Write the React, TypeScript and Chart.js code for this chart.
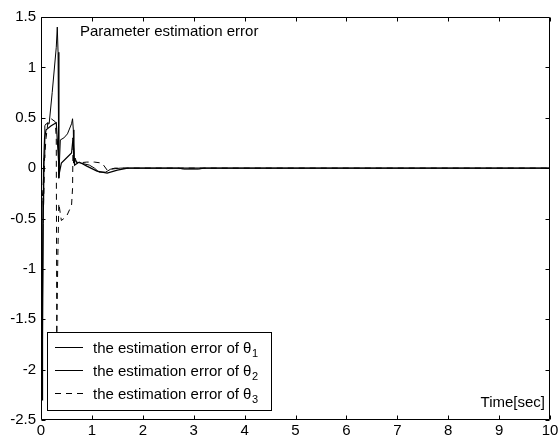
import React, { useEffect, useRef } from "react";
import { Chart, registerables } from "chart.js";

Chart.register(...registerables);

const FONT = "'Liberation Sans', Arial, Helvetica, sans-serif";

const timeTicks = [0, 1, 2, 3, 4, 5, 6, 7, 8, 9, 10];
const errorTicks = [-2.5, -2, -1.5, -1, -0.5, 0, 0.5, 1, 1.5];

const theta1Time = [0, 0.01, 0.03, 0.045, 0.06, 0.075, 0.1, 0.16, 0.22, 0.3, 0.32, 0.335, 0.35, 0.38, 0.45, 0.52, 0.6, 0.62, 0.635, 0.645, 0.67, 0.7, 0.78, 0.95, 1.05, 1.14, 1.27, 1.37, 1.56, 2.7, 2.8, 3.1, 3.2, 10];
const theta1Error = [0, -0.5, -1.7, -0.55, 0.1, 0.42, 0.44, 0.44, 0.75, 1.2, 1.4, 1.15, -0.1, 0.28, 0.3, 0.34, 0.44, 0.49, 0.38, 0.05, 0.1, 0.06, 0.05, 0.03, 0, -0.04, -0.04, -0.01, 0, 0, -0.01, -0.01, 0, 0];

const theta2Time = [0, 0.01, 0.02, 0.03, 0.04, 0.05, 0.07, 0.1, 0.2, 0.3, 0.33, 0.36, 0.4, 0.5, 0.6, 0.63, 0.66, 0.75, 0.9, 1.1, 1.3, 1.5, 1.7, 10];
const theta2Error = [0, -1.0, -2.3, -1.3, -0.3, 0, 0.3, 0.38, 0.42, 0.45, 0.2, -0.05, 0.05, 0.1, 0.15, 0.3, 0.03, 0.06, 0.02, -0.03, -0.05, -0.02, 0, 0];

const theta3Time = [0, 0.02, 0.05, 0.07, 0.1, 0.14, 0.2, 0.28, 0.3, 0.31, 0.33, 0.35, 0.4, 0.5, 0.6, 0.62, 0.63, 0.65, 0.7, 0.9, 1.05, 1.2, 1.3, 1.45, 10];
const theta3Error = [0, -0.2, -0.4, 0.1, 0.3, 0.47, 0.49, 0.46, 0.3, -1.65, -0.9, -0.35, -0.52, -0.48, -0.37, -0.2, 0.3, 0.1, 0.05, 0.06, 0.06, 0.05, -0.02, 0, 0];

const legendLabels = ["the estimation error of θ", "the estimation error of θ", "the estimation error of θ"];
const legendSubscripts = ["1", "2", "3"];
const titleText = "Parameter estimation error";
const xAxisText = "Time[sec]";

const toPoints = (t: number[], v: number[]) => t.map((x, i) => ({ x, y: v[i] }));

const framePlugin = {
  id: "matlabFrame",
  afterDraw(chart: any) {
    const { ctx, chartArea: a, scales } = chart;
    const xs = scales.x;
    const ys = scales.y;
    ctx.save();
    ctx.strokeStyle = "#000";
    ctx.lineWidth = 1;
    const L = Math.round(a.left) + 0.5;
    const R = Math.round(a.right) - 0.5;
    const T = Math.round(a.top) + 0.5;
    const B = Math.round(a.bottom) - 0.5;
    ctx.beginPath();
    ctx.rect(L, T, R - L, B - T);
    ctx.stroke();
    const tl = 4;
    ctx.beginPath();
    timeTicks.forEach((v) => {
      const px = Math.round(xs.getPixelForValue(v)) + 0.5;
      ctx.moveTo(px, B);
      ctx.lineTo(px, B - tl);
      ctx.moveTo(px, T);
      ctx.lineTo(px, T + tl);
    });
    errorTicks.forEach((v) => {
      const py = Math.round(ys.getPixelForValue(v)) + 0.5;
      ctx.moveTo(L, py);
      ctx.lineTo(L + tl, py);
      ctx.moveTo(R, py);
      ctx.lineTo(R - tl, py);
    });
    ctx.stroke();

    ctx.fillStyle = "#000";
    ctx.font = `15px ${FONT}`;
    ctx.textBaseline = "alphabetic";
    ctx.textAlign = "left";
    ctx.fillText(titleText, 80, 36);
    ctx.textAlign = "right";
    ctx.fillText(xAxisText, 545, 407);

    // legend box
    const bx = 47.5, by = 332.5, bw = 224, bh = 78;
    ctx.fillStyle = "#fff";
    ctx.fillRect(bx, by, bw, bh);
    ctx.strokeRect(bx, by, bw, bh);
    const baselines = [353, 376, 399];
    const dashes = [[], [], [6, 5]];
    legendLabels.forEach((lab, i) => {
      const yb = baselines[i];
      ctx.beginPath();
      ctx.setLineDash(dashes[i]);
      ctx.moveTo(55, yb - 5.5);
      ctx.lineTo(83, yb - 5.5);
      ctx.stroke();
      ctx.setLineDash([]);
      ctx.fillStyle = "#000";
      ctx.textAlign = "left";
      ctx.font = `15px ${FONT}`;
      ctx.fillText(lab, 93, yb);
      const w = ctx.measureText(lab).width;
      ctx.font = `11px ${FONT}`;
      ctx.fillText(legendSubscripts[i], 93 + w + 0.5, yb + 4);
    });
    ctx.restore();
  },
};

export default function App() {
  const ref = useRef<HTMLCanvasElement | null>(null);
  useEffect(() => {
    document.body.style.margin = "0";
    const canvas = ref.current;
    if (!canvas) return;
    const chart = new Chart(canvas, {
      type: "line",
      data: {
        datasets: [
          { label: "theta1", data: toPoints(theta1Time, theta1Error), borderColor: "#000", borderWidth: 1, pointRadius: 0, tension: 0, fill: false },
          { label: "theta2", data: toPoints(theta2Time, theta2Error), borderColor: "#000", borderWidth: 1.2, pointRadius: 0, tension: 0, fill: false },
          { label: "theta3", data: toPoints(theta3Time, theta3Error), borderColor: "#000", borderWidth: 1, borderDash: [6, 5], pointRadius: 0, tension: 0, fill: false },
        ],
      },
      options: {
        responsive: false,
        animation: false,
        devicePixelRatio: 1,
        layout: { padding: { top: 17, right: 8, left: 0, bottom: 0 } },
        plugins: { legend: { display: false }, tooltip: { enabled: false }, title: { display: false } },
        scales: {
          x: {
            type: "linear",
            min: 0,
            max: 10,
            afterBuildTicks: (s: any) => { s.ticks = timeTicks.map((v) => ({ value: v })); },
            ticks: { font: { size: 15, family: FONT }, color: "#000", padding: 2, maxRotation: 0, autoSkip: false, callback: (v: any) => String(v) },
            grid: { display: false, drawTicks: false },
            border: { display: false },
            afterFit: (s: any) => { s.height = 17; s.paddingLeft = 0; s.paddingRight = 0; },
          },
          y: {
            type: "linear",
            min: -2.5,
            max: 1.5,
            afterBuildTicks: (s: any) => { s.ticks = errorTicks.map((v) => ({ value: v })); },
            ticks: { font: { size: 15, family: FONT }, color: "#000", padding: 5, autoSkip: false, callback: (v: any) => String(v) },
            grid: { display: false, drawTicks: false },
            border: { display: false },
            afterFit: (s: any) => { s.width = 41; s.paddingTop = 0; s.paddingBottom = 0; },
          },
        },
      },
      plugins: [framePlugin],
    } as any);
    return () => chart.destroy();
  }, []);
  return (
    <div style={{ width: 558, height: 437, background: "#fff" }}>
      <canvas ref={ref} width={558} height={437} style={{ display: "block" }} />
    </div>
  );
}
